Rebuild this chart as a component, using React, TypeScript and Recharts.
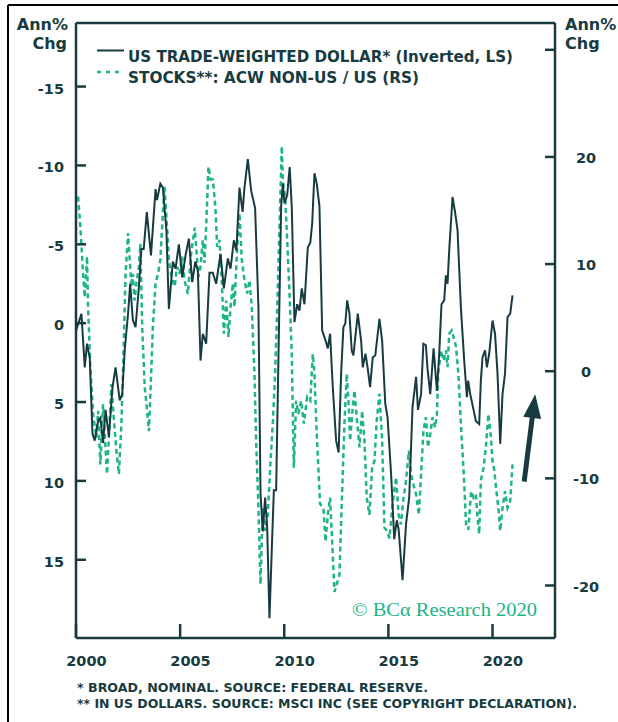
import { LineChart, Line, XAxis, YAxis, ReferenceLine } from 'recharts';

// US trade-weighted dollar, annual % change (plotted inverted on left scale)
const dollarYears = [
  2000.0, 2000.26, 2000.42, 2000.53, 2000.66, 2000.79, 2000.9, 2001.06, 2001.17, 2001.3,
  2001.42, 2001.58, 2001.75, 2001.9, 2002.1, 2002.22, 2002.34, 2002.5, 2002.6, 2002.73,
  2002.86, 2003.02, 2003.14, 2003.25, 2003.4, 2003.6, 2003.82, 2003.89, 2004.05, 2004.17,
  2004.34, 2004.46, 2004.65, 2004.78, 2004.94, 2005.1, 2005.26, 2005.42, 2005.58, 2005.73,
  2005.85, 2005.98, 2006.09, 2006.25, 2006.41, 2006.57, 2006.73, 2006.94, 2007.1, 2007.29,
  2007.42, 2007.58, 2007.7, 2007.85, 2008.0, 2008.09, 2008.25, 2008.41, 2008.6, 2008.76,
  2008.86, 2008.97, 2009.08, 2009.18, 2009.29, 2009.4, 2009.5, 2009.61, 2009.72, 2009.85,
  2009.93, 2010.01, 2010.14, 2010.26, 2010.36, 2010.49, 2010.62, 2010.73, 2010.84, 2010.97,
  2011.13, 2011.25, 2011.34, 2011.45, 2011.56, 2011.69, 2011.82, 2011.98, 2012.09, 2012.2,
  2012.33, 2012.49, 2012.61, 2012.73, 2012.84, 2012.93, 2013.02, 2013.13, 2013.24, 2013.32,
  2013.53, 2013.69, 2013.77, 2013.9, 2014.0, 2014.12, 2014.25, 2014.37, 2014.57, 2014.7,
  2014.85, 2014.96, 2015.13, 2015.28, 2015.4, 2015.49, 2015.68, 2015.85, 2016.0, 2016.16,
  2016.33, 2016.42, 2016.57, 2016.68, 2016.8, 2016.88, 2017.01, 2017.17, 2017.33, 2017.44,
  2017.55, 2017.68, 2017.76, 2017.84, 2017.92, 2018.08, 2018.2, 2018.32, 2018.48, 2018.64,
  2018.77, 2018.83, 2018.93, 2019.09, 2019.2, 2019.36, 2019.44, 2019.52, 2019.64, 2019.73,
  2019.84, 2020.0, 2020.12, 2020.24, 2020.37, 2020.48, 2020.6, 2020.72, 2020.85, 2020.96,
];
const dollarValues = [
  0.5, -0.6, 2.8, 1.3, 2.2, 7.0, 7.45, 6.2, 6.0, 7.6,
  5.5, 7.2, 4.1, 2.8, 4.9, 4.5, 1.7, -0.6, -2.5, -0.2,
  0.25, -2.3, -4.7, -4.7, -7.05, -4.3, -8.5, -7.8, -8.85, -8.6,
  -5.9, -0.9, -3.9, -3.45, -5.0, -2.9, -4.3, -5.36, -2.6, -3.9,
  -3.35, 2.37, 0.67, 1.3, -3.2, -3.2, -2.5, -4.4, -2.2, -4.1,
  -3.45, -5.25, -4.6, -8.6, -7.05, -8.6, -10.4, -8.4, -7.3, -1.0,
  10.8, 13.2, 11.05, 12.95, 18.7, 14.4, 10.6, 10.6, 2.2, -7.4,
  -8.85, -7.6, -8.1, -9.9, -7.4, -0.06, -1.2, -0.8, -2.2, -1.2,
  -4.8, -5.1, -6.3, -9.5, -8.85, -7.4, 0.46, 1.1, 1.6, 0.67,
  4.06, 7.45, 8.2, 3.2, 0.25, 0.04, -1.44, -0.6, 1.73, 2.05,
  -0.6, 1.1, 2.8, 1.94, 2.8, 4.06, 2.16, 2.05, -0.28, 1.1,
  5.1, 5.97, 9.56, 13.7, 12.5, 13.05, 16.3, 12.7, 11.05, 5.3,
  3.4, 5.5, 4.5, 1.3, 1.4, 2.9, 4.5, 1.6, 4.3, 1.94,
  -1.2, -1.44, -3.03, -2.5, -4.6, -8.0, -7.05, -5.9, -1.0, 2.37,
  4.7, 3.64, 4.5, 5.5, 6.2, 6.4, 3.64, 2.16, 1.73, 2.8,
  1.94, -0.17, 0.67, 3.2, 7.65, 4.5, 3.2, -0.38, -0.6, -1.76,
];

// ACW ex-US / US relative stocks, annual % change (right scale)
const stockYears = [
  2000.1, 2000.21, 2000.34, 2000.42, 2000.53, 2000.58, 2000.69, 2000.82, 2000.98, 2001.06,
  2001.17, 2001.3, 2001.38, 2001.49, 2001.62, 2001.7, 2001.81, 2001.94, 2002.06, 2002.18,
  2002.29, 2002.38, 2002.5, 2002.58, 2002.66, 2002.73, 2002.81, 2002.9, 2003.02, 2003.09,
  2003.18, 2003.3, 2003.4, 2003.5, 2003.58, 2003.69, 2003.82, 2003.94, 2004.05, 2004.17,
  2004.25, 2004.37, 2004.46, 2004.58, 2004.74, 2004.85, 2004.97, 2005.1, 2005.21, 2005.37,
  2005.53, 2005.7, 2005.77, 2005.88, 2005.98, 2006.09, 2006.17, 2006.25, 2006.36, 2006.46,
  2006.57, 2006.69, 2006.78, 2006.89, 2007.0, 2007.1, 2007.21, 2007.32, 2007.42, 2007.53,
  2007.61, 2007.74, 2007.85, 2007.96, 2008.09, 2008.22, 2008.33, 2008.44, 2008.57, 2008.65,
  2008.76, 2008.86, 2008.97, 2009.08, 2009.21, 2009.34, 2009.45, 2009.56, 2009.69, 2009.8,
  2009.88, 2009.93, 2010.05, 2010.14, 2010.26, 2010.36, 2010.46, 2010.57, 2010.68, 2010.81,
  2010.94, 2011.1, 2011.25, 2011.37, 2011.45, 2011.56, 2011.72, 2011.88, 2011.98, 2012.09,
  2012.2, 2012.3, 2012.41, 2012.52, 2012.65, 2012.78, 2012.89, 2013.0, 2013.1, 2013.16,
  2013.26, 2013.37, 2013.48, 2013.61, 2013.74, 2013.85, 2013.96, 2014.09, 2014.22, 2014.33,
  2014.44, 2014.57, 2014.7, 2014.81, 2014.92, 2015.05, 2015.18, 2015.28, 2015.37, 2015.49,
  2015.6, 2015.71, 2015.85, 2015.98, 2016.09, 2016.2, 2016.33, 2016.46, 2016.57, 2016.68,
  2016.8, 2016.9, 2017.01, 2017.12, 2017.24, 2017.33, 2017.39, 2017.52, 2017.65, 2017.76,
  2017.84, 2017.92, 2018.04, 2018.17, 2018.25, 2018.36, 2018.49, 2018.62, 2018.73, 2018.84,
  2018.97, 2019.09, 2019.2, 2019.28, 2019.36, 2019.44, 2019.57, 2019.68, 2019.8, 2019.9,
  2020.0, 2020.09, 2020.17, 2020.28, 2020.37, 2020.48, 2020.6, 2020.72, 2020.85, 2020.96,
];
const stockValues = [
  16.3, 13.5, 9.1, 6.9, 10.7, 6.0, 0.4, -4.0, -6.2, -3.7,
  -8.7, -3.1, -5.9, -9.6, -4.6, -1.2, -4.3, -7.4, -9.6, -4.9,
  2.25, 9.1, 12.9, 10.4, 7.9, 9.1, 6.6, 8.2, 9.75, 11.9,
  4.1, -1.5, -3.4, -5.6, -1.8, 4.1, 8.2, 9.1, 10.4, 14.75,
  17.2, 13.5, 10.4, 8.8, 7.9, 9.75, 9.1, 10.7, 8.5, 7.2,
  11.0, 13.4, 11.6, 8.8, 9.75, 12.25, 10.1, 13.5, 19.1, 17.9,
  17.9, 15.4, 11.6, 12.25, 8.5, 3.5, 6.6, 3.2, 6.0, 8.2,
  6.0, 11.6, 14.75, 10.4, 8.5, 7.25, 8.5, 6.0, -0.25, -6.5,
  -12.75, -19.9, -12.75, -14.9, -13.4, -8.4, -4.9, -0.25, 7.6, 15.4,
  21.0, 17.9, 16.0, 12.25, 6.9, 1.6, -9.0, -2.75, -4.0, -2.75,
  -4.9, -2.4, -2.75, 1.6, -0.25, -5.9, -12.4, -12.75, -15.9, -13.4,
  -11.8, -15.9, -20.6, -19.9, -19.0, -11.2, -4.9, -0.25, -3.4, -6.5,
  -4.0, -1.8, -4.3, -7.1, -3.7, -6.5, -11.8, -13.4, -9.0, -8.4,
  -4.6, -2.1, -6.5, -14.6, -14.9, -15.6, -12.75, -11.2, -9.9, -13.4,
  -14.3, -12.1, -10.2, -7.4, -9.6, -10.55, -11.5, -13.4, -9.6, -5.6,
  -4.3, -7.1, -5.9, -4.3, -5.25, -4.0, -0.25, 1.94, 1.0, 1.94,
  0.37, 3.5, 3.8, 2.9, 2.25, -0.25, -5.25, -9.6, -14.3, -14.8,
  -11.2, -11.8, -11.5, -13.7, -15.2, -10.2, -9.0, -7.1, -4.0, -5.6,
  -8.4, -9.3, -10.9, -12.75, -14.9, -12.75, -11.2, -12.75, -12.1, -8.7,
];

const xTicks = [2000, 2005, 2010, 2015, 2020];
const leftTicks = [-15, -10, -5, 0, 5, 10, 15];
const rightTicks = [-20, -10, 0, 10, 20, 30];

const dollarData = dollarYears.map((year, i) => ({ year, value: dollarValues[i] }));
const stockData = stockYears.map((year, i) => ({ year, value: stockValues[i] }));

const DARK = '#183b41';
const GREEN = '#1db487';
const FONT = '"DejaVu Sans", sans-serif';

const LeftTick = ({ x, y, payload }: any) => (
  <g>
    <line x1={x} x2={x + 10} y1={y} y2={y} stroke={DARK} strokeWidth={2.5} />
    <text x={x - 12} y={y + 7} textAnchor="end" fontFamily={FONT} fontWeight="bold" fontSize={14.5} fill={DARK}>
      {payload.value}
    </text>
  </g>
);

const RightTick = ({ x, y, payload }: any) => (
  <g>
    <line x1={x - 10} x2={x} y1={y} y2={y} stroke={DARK} strokeWidth={2.5} />
    {payload.value !== 30 && (
      <text x={x + 31} y={y + 6} textAnchor="middle" fontFamily={FONT} fontWeight="bold" fontSize={14.5} fill={DARK}>
        {payload.value}
      </text>
    )}
  </g>
);

const BottomTick = ({ x, y, payload }: any) => (
  <g>
    <line x1={x} x2={x} y1={y - 14} y2={y} stroke={DARK} strokeWidth={2.5} />
    <text x={x + 10.4} y={y + 28} textAnchor="middle" fontFamily={FONT} fontWeight="bold" fontSize={14.5} fill={DARK}>
      {payload.value}
    </text>
  </g>
);

// arrow annotation drawn on the reference segment
const Arrow = (props: any) => {
  const { x1, y1, x2, y2 } = props;
  const dx = x2 - x1;
  const dy = y2 - y1;
  const len = Math.sqrt(dx * dx + dy * dy);
  const ux = dx / len;
  const uy = dy / len;
  const head = 24;
  const bx = x2 - ux * head;
  const by = y2 - uy * head;
  const hw = 9;
  return (
    <g>
      <line x1={x1} y1={y1} x2={bx + ux * 2} y2={by + uy * 2} stroke={DARK} strokeWidth={5} />
      <polygon
        points={`${x2},${y2} ${bx - uy * hw},${by + ux * hw} ${bx + uy * hw},${by - ux * hw}`}
        fill={DARK}
      />
    </g>
  );
};

export default function App() {
  return (
    <div style={{ position: 'absolute', left: 0, top: 0, width: 618, height: 722, background: '#fff' }}>
      <LineChart width={618} height={722} margin={{ top: 22, right: 62, bottom: 83, left: 75 }}>
        <XAxis
          xAxisId="bottom"
          type="number"
          dataKey="year"
          domain={[2000, 2023]}
          allowDataOverflow
          ticks={xTicks}
          interval={0}
          height={1}
          tickSize={0}
          tickMargin={0}
          tickLine={false}
          tick={<BottomTick />}
          axisLine={{ stroke: DARK, strokeWidth: 2.5 }}
        />
        <XAxis
          xAxisId="top"
          orientation="top"
          type="number"
          dataKey="year"
          domain={[2000, 2023]}
          allowDataOverflow
          height={1}
          tick={false}
          tickLine={false}
          axisLine={{ stroke: DARK, strokeWidth: 2.5 }}
        />
        <YAxis
          yAxisId="left"
          type="number"
          reversed
          domain={[-19.03, 19.96]}
          allowDataOverflow
          ticks={leftTicks}
          interval={0}
          width={1}
          tickSize={0}
          tickMargin={0}
          tickLine={false}
          tick={<LeftTick />}
          axisLine={{ stroke: DARK, strokeWidth: 2.5 }}
        />
        <YAxis
          yAxisId="right"
          orientation="right"
          type="number"
          domain={[-24.9, 32.5]}
          allowDataOverflow
          ticks={rightTicks}
          interval={0}
          width={1}
          tickSize={0}
          tickMargin={0}
          tickLine={false}
          tick={<RightTick />}
          axisLine={{ stroke: DARK, strokeWidth: 2.5 }}
        />
        <Line
          xAxisId="bottom"
          yAxisId="right"
          data={stockData}
          dataKey="value"
          type="linear"
          stroke={GREEN}
          strokeWidth={2.5}
          strokeDasharray="5 3.5"
          dot={false}
          isAnimationActive={false}
        />
        <Line
          xAxisId="bottom"
          yAxisId="left"
          data={dollarData}
          dataKey="value"
          type="linear"
          stroke={DARK}
          strokeWidth={2}
          dot={false}
          isAnimationActive={false}
        />
        <ReferenceLine
          xAxisId="bottom"
          yAxisId="left"
          segment={[{ x: 2021.52, y: 10.05 }, { x: 2022.05, y: 4.5 }]}
          shape={<Arrow />}
        />
      </LineChart>
      <svg
        width={618}
        height={722}
        style={{ position: 'absolute', left: 0, top: 0, pointerEvents: 'none' }}
        fontFamily={FONT}
      >
        <line x1={8} y1={5} x2={618} y2={5} stroke="#000" strokeWidth={2} />
        <line x1={8} y1={5} x2={8} y2={722} stroke="#000" strokeWidth={2} />

        <text x={68} y={30} textAnchor="end" fontWeight="bold" fontSize={16} fill={DARK}>Ann%</text>
        <text x={67} y={49} textAnchor="end" fontWeight="bold" fontSize={16} fill={DARK}>Chg</text>
        <text x={565} y={30} fontWeight="bold" fontSize={16} fill={DARK}>Ann%</text>
        <text x={565} y={49} fontWeight="bold" fontSize={16} fill={DARK}>Chg</text>

        <line x1={97} y1={50.5} x2={124} y2={50.5} stroke={DARK} strokeWidth={2} />
        <text x={128} y={62} fontWeight="bold" fontSize={16} fill={DARK} textLength={385} lengthAdjust="spacingAndGlyphs">
          US TRADE-WEIGHTED DOLLAR* (Inverted, LS)
        </text>
        <line x1={97} y1={72} x2={124} y2={72} stroke={GREEN} strokeWidth={2.5} strokeDasharray="4 5" />
        <text x={128} y={83} fontWeight="bold" fontSize={16} fill={DARK} textLength={291} lengthAdjust="spacingAndGlyphs">
          STOCKS**: ACW NON-US / US (RS)
        </text>

        <text x={352} y={616} fontFamily='"Liberation Serif", serif' fontSize={19} fill={GREEN} textLength={185} lengthAdjust="spacingAndGlyphs">
          © BCα Research 2020
        </text>

        <text x={77} y={692} fontWeight="bold" fontSize={12.5} fill={DARK} textLength={351} lengthAdjust="spacingAndGlyphs">
          *  BROAD, NOMINAL. SOURCE: FEDERAL RESERVE.
        </text>
        <text x={77} y={708} fontWeight="bold" fontSize={12.5} fill={DARK} textLength={500} lengthAdjust="spacingAndGlyphs">
          ** IN US DOLLARS. SOURCE: MSCI INC (SEE COPYRIGHT DECLARATION).
        </text>
      </svg>
    </div>
  );
}
